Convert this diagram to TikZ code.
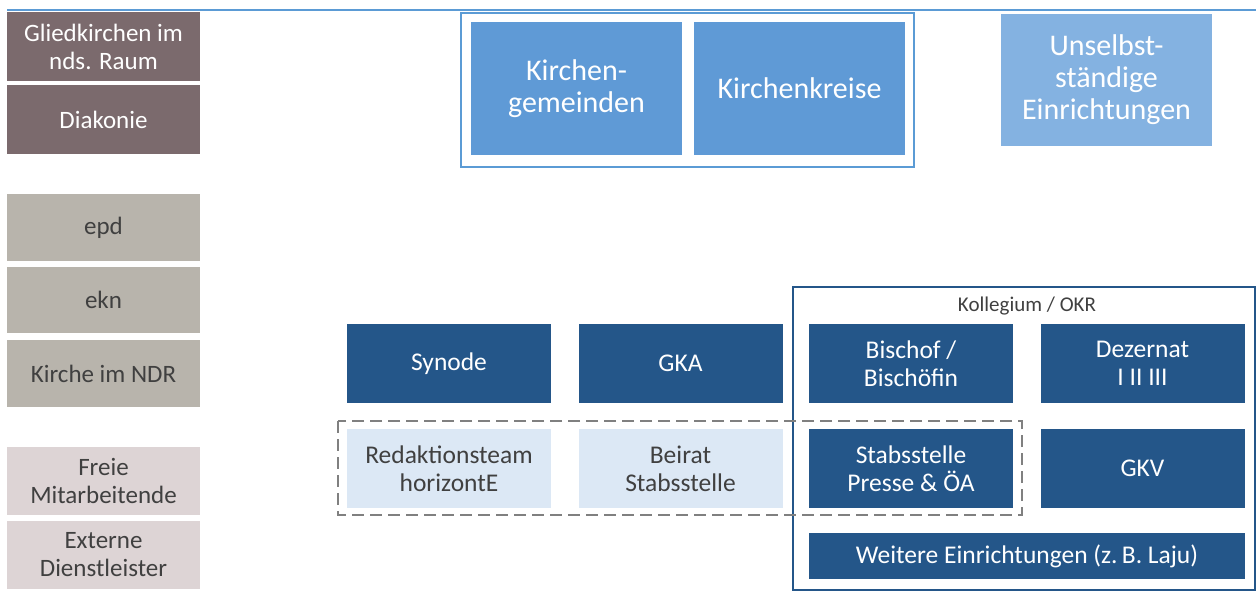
\documentclass[tikz,border=0pt]{standalone}
\usepackage{fontspec}
\setmainfont{Carlito}
\usetikzlibrary{positioning}
\definecolor{linieblau}{HTML}{5B9BD5}
\definecolor{braun}{HTML}{7B6A6D}
\definecolor{steingrau}{HTML}{B8B4AC}
\definecolor{rosagrau}{HTML}{DDD4D5}
\definecolor{mittelblau}{HTML}{5F9AD6}
\definecolor{zartblau}{HTML}{84B2E1}
\definecolor{dunkelblau}{HTML}{245689}
\definecolor{hellblau}{HTML}{DCE8F5}
\definecolor{textgrau}{HTML}{404040}

\begin{document}
\begin{tikzpicture}[x=1pt, y=-1pt,
    feld/.style={inner sep=0pt, align=center, minimum width=#1},
    feld/.default=204pt,
    links/.style={feld=193pt, font=\fontsize{25}{28}\selectfont},
    gross/.style={feld=211pt, minimum height=133pt, fill=mittelblau, text=white, font=\fontsize{30}{32}\selectfont},
    organ/.style={feld, minimum height=79pt, fill=dunkelblau, text=white, font=\fontsize{25.5}{28}\selectfont},
    beirat/.style={feld, minimum height=79pt, fill=hellblau, text=textgrau, font=\fontsize{25.5}{28}\selectfont}]
    \useasboundingbox (0,0) rectangle (1256,591);
    \draw[linieblau, line width=1.5pt] (7,10) -- (1256,10);

    % linke Spalte
    \node[links, minimum height=69pt, fill=braun, text=white] (glied) at (103.5,46.5) {Gliedkirchen im\\nds. Raum};
    \node[links, minimum height=69pt, fill=braun, text=white] (diakonie) at (103.5,119.5) {Diakonie};
    \node[links, minimum height=67pt, fill=steingrau, text=textgrau] (epd) at (103.5,227.5) {epd};
    \node[links, minimum height=66pt, fill=steingrau, text=textgrau] (ekn) at (103.5,300) {ekn};
    \node[links, minimum height=67pt, fill=steingrau, text=textgrau] (ndr) at (103.5,373.5) {Kirche im NDR};
    \node[links, minimum height=68pt, fill=rosagrau, text=textgrau] (freie) at (103.5,481) {Freie\\Mitarbeitende};
    \node[links, minimum height=68pt, fill=rosagrau, text=textgrau] (extern) at (103.5,555) {Externe\\Dienstleister};

    % oben
    \draw[linieblau, line width=1.2pt] (461,13) rectangle (914,167);
    \node[gross] (gemeinden) at (576.5,88.5) {Kirchen-\\gemeinden};
    \node[gross] (kreise) at (799.5,88.5) {Kirchenkreise};
    \node[gross, minimum height=132pt, fill=zartblau] (unselbst) at (1106.5,80) {Unselbst-\\ständige\\Einrichtungen};

    % Leitung
    \draw[dunkelblau, line width=1.2pt] (793,287) rectangle (1255,590);
    \node[text=textgrau, font=\fontsize{21}{24}\selectfont] (kollegium) at (1027,306) {Kollegium / OKR};
    \node[organ] (synode) at (449,363.5) {Synode};
    \node[organ] (gka) at (680.5,363.5) {GKA};
    \node[organ] (bischof) at (911,363.5) {Bischof /\\Bischöfin};
    \node[organ] (dezernat) at (1142.5,363.5) {Dezernat\\I II III};
    \node[beirat] (redaktion) at (449,468.5) {Redaktionsteam\\horizontE};
    \node[beirat] (stabbeirat) at (680.5,468.5) {Beirat\\Stabsstelle};
    \node[organ] (presse) at (911,468.5) {Stabsstelle\\Presse \& ÖA};
    \node[organ] (gkv) at (1142.5,468.5) {GKV};
    \node[organ, minimum width=436pt, minimum height=46pt] (weitere) at (1027,556) {Weitere Einrichtungen (z.\,B. Laju)};
    \draw[gray, line width=1.5pt, dash pattern=on 12pt off 6pt] (338,421) rectangle (1022,515);
\end{tikzpicture}
\end{document}
